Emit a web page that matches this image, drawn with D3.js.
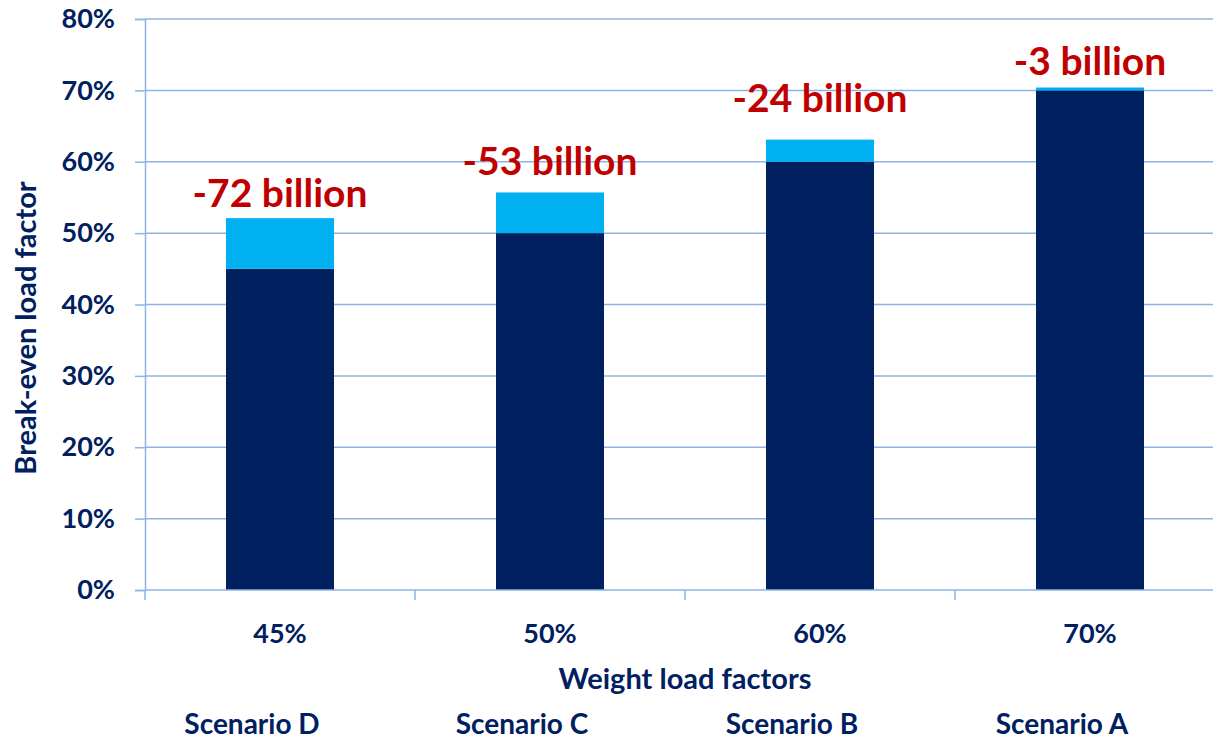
<!DOCTYPE html>
<html><head><meta charset="utf-8">
<script src="https://cdn.jsdelivr.net/npm/d3@7"></script>
<style>body{margin:0;background:#fff;} svg{display:block;}</style>
</head><body>
<svg id="c" width="1213" height="740"></svg>
<script>
const categories = ["45%", "50%", "60%", "70%"];
const scenarios = ["Scenario D", "Scenario C", "Scenario B", "Scenario A"];
const baseValues = [45, 50, 60, 70];
const totalValues = [52.1, 55.7, 63.1, 70.4];
const gapLabels = ["-72 billion", "-53 billion", "-24 billion", "-3 billion"];
const labelLevels = [53.6, 58.1, 67.0, 72.2];
const yTicks = [0, 10, 20, 30, 40, 50, 60, 70, 80];

const svg = d3.select("#c");
const navy = "#002060", light = "#00b0f0", grid = "#8db4e2", red = "#c00000";
const font = "Lato, 'Open Sans', sans-serif";

const x = d3.scaleBand().domain(categories).range([145, 1225]).paddingInner(0.6).paddingOuter(0.3);
const xEdge = d3.scaleBand().domain(categories).range([145, 1225]);
const y = d3.scaleLinear().domain([0, 80]).range([590, 19]);

// gridlines
svg.append("g").selectAll("line").data(yTicks.filter(d => d > 0)).join("line")
  .attr("x1", 145).attr("x2", 1225).attr("y1", d => y(d)).attr("y2", d => y(d))
  .attr("stroke", grid).attr("stroke-width", 1.5);

// bars
const data = categories.map((c, i) => ({c, base: baseValues[i], total: totalValues[i], label: gapLabels[i], lv: labelLevels[i], sc: scenarios[i]}));
svg.append("g").selectAll("rect").data(data).join("rect")
  .attr("x", d => x(d.c)).attr("width", x.bandwidth())
  .attr("y", d => y(d.base)).attr("height", d => y(0) - y(d.base)).attr("fill", navy);
svg.append("g").selectAll("rect").data(data).join("rect")
  .attr("x", d => x(d.c)).attr("width", x.bandwidth())
  .attr("y", d => y(d.total)).attr("height", d => y(d.base) - y(d.total)).attr("fill", light);

// y axis
const yAxis = d3.axisLeft(y).tickValues(yTicks).tickFormat(d => d + "%").tickSize(10).tickPadding(20);
const ga = svg.append("g").attr("transform", "translate(145,0)").call(yAxis);
ga.select(".domain").attr("stroke", grid).attr("stroke-width", 1.5);
ga.selectAll(".tick line").attr("stroke", grid).attr("stroke-width", 1.5);
ga.selectAll(".tick text").attr("fill", navy).attr("font-family", font).attr("font-weight", "bold").attr("font-size", 27);

// x axis
const xg = svg.append("g");
xg.append("line").attr("x1", 145).attr("x2", 1225).attr("y1", y(0)).attr("y2", y(0)).attr("stroke", grid).attr("stroke-width", 1.5);
xg.selectAll("line.t").data(categories).join("line").attr("class", "t")
  .attr("x1", d => xEdge(d)).attr("x2", d => xEdge(d)).attr("y1", y(0)).attr("y2", y(0) + 10)
  .attr("stroke", grid).attr("stroke-width", 1.5);
xg.selectAll("text.c").data(categories).join("text").attr("class", "c")
  .attr("x", d => x(d) + x.bandwidth() / 2).attr("y", 643).attr("text-anchor", "middle")
  .attr("fill", navy).attr("font-family", font).attr("font-weight", "bold").attr("font-size", 27).text(d => d);

// scenarios
svg.selectAll("text.s").data(data).join("text").attr("class", "s")
  .attr("x", d => x(d.c) + x.bandwidth() / 2 - 28).attr("y", 734).attr("text-anchor", "middle")
  .attr("fill", navy).attr("font-family", font).attr("font-weight", "bold").attr("font-size", 28).text(d => d.sc);

// labels
svg.selectAll("text.l").data(data).join("text").attr("class", "l")
  .attr("x", d => x(d.c) + x.bandwidth() / 2).attr("y", d => y(d.lv)).attr("text-anchor", "middle")
  .attr("fill", red).attr("font-family", font).attr("font-weight", "bold").attr("font-size", 39).text(d => d.label);

// axis titles
svg.append("text").attr("x", 685).attr("y", 689).attr("text-anchor", "middle")
  .attr("fill", navy).attr("font-family", font).attr("font-weight", "bold").attr("font-size", 29).text("Weight load factors");
svg.append("text").attr("transform", "translate(36,328) rotate(-90)").attr("text-anchor", "middle")
  .attr("fill", navy).attr("font-family", font).attr("font-weight", "bold").attr("font-size", 29).text("Break-even load factor");
</script>
</body></html>
